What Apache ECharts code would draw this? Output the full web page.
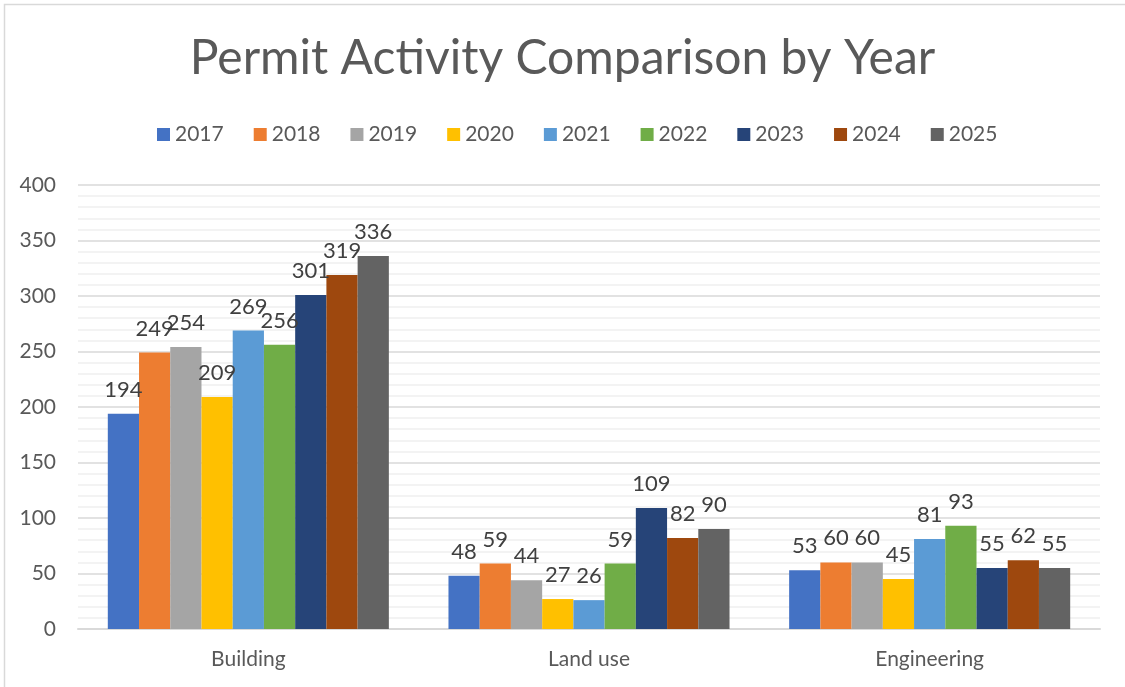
<!DOCTYPE html>
<html><head><meta charset="utf-8">
<script src="https://cdn.jsdelivr.net/npm/echarts@6/dist/echarts.min.js"></script>
<style>html,body{margin:0;padding:0;background:#fff}#c{width:1125px;height:687px}</style>
</head><body><div id="c"></div>
<script>
const categories = ['Building', 'Land use', 'Engineering'];
const years = ['2017','2018','2019','2020','2021','2022','2023','2024','2025'];
const v2017 = [194, 48, 53];
const v2018 = [249, 59, 60];
const v2019 = [254, 44, 60];
const v2020 = [209, 27, 45];
const v2021 = [269, 26, 81];
const v2022 = [256, 59, 93];
const v2023 = [301, 109, 55];
const v2024 = [319, 82, 62];
const v2025 = [336, 90, 55];
const seriesValues = [v2017, v2018, v2019, v2020, v2021, v2022, v2023, v2024, v2025];
const colors = ['#4472C4','#ED7D31','#A5A5A5','#FFC000','#5B9BD5','#70AD47','#264478','#9E480E','#636363'];
const FONT = 'Lato, "Open Sans", sans-serif';

const chart = echarts.init(document.getElementById('c'), null, {renderer:'canvas'});
chart.setOption({
  animation: false,
  color: colors,
  title: {
    text: 'Permit Activity Comparison by Year',
    left: 'center', top: 30,
    textStyle: {fontFamily: FONT, fontSize: 48, fontWeight: 'normal', color: '#595959'}
  },
  legend: {
    top: 119, left: 152,
    itemWidth: 13, itemHeight: 13, itemGap: 30,
    icon: 'rect',
    textStyle: {fontFamily: FONT, fontSize: 21, color: '#595959'}
  },
  grid: {left: 78, right: 25, top: 185, bottom: 58, containLabel: false},
  xAxis: {
    type: 'category', data: categories,
    axisTick: {show: false},
    axisLine: {lineStyle: {color: '#d9d9d9', width: 2}},
    axisLabel: {fontFamily: FONT, fontSize: 21, color: '#595959', margin: 20}
  },
  yAxis: {
    type: 'value', min: 0, max: 400, interval: 50,
    axisLabel: {fontFamily: FONT, fontSize: 21, color: '#595959', margin: 22},
    splitLine: {lineStyle: {color: '#d9d9d9', width: 1.5}},
    minorTick: {show: false, splitNumber: 5},
    minorSplitLine: {show: true, lineStyle: {color: '#efefef', width: 1.5}}
  },
  series: seriesValues.map((vals, i) => ({
    name: years[i], type: 'bar', data: vals,
    barGap: '0%', barCategoryGap: '17.5%',
    label: {show: true, position: 'top', distance: 13, fontFamily: FONT, fontSize: 22, color: '#404040'}
  })),
  graphic: [{
    type: 'rect', shape: {x: 4.5, y: 4.5, width: 1125, height: 690},
    style: {fill: 'none', stroke: '#d9d9d9', lineWidth: 1.5}, silent: true
  }]
});
</script></body></html>
